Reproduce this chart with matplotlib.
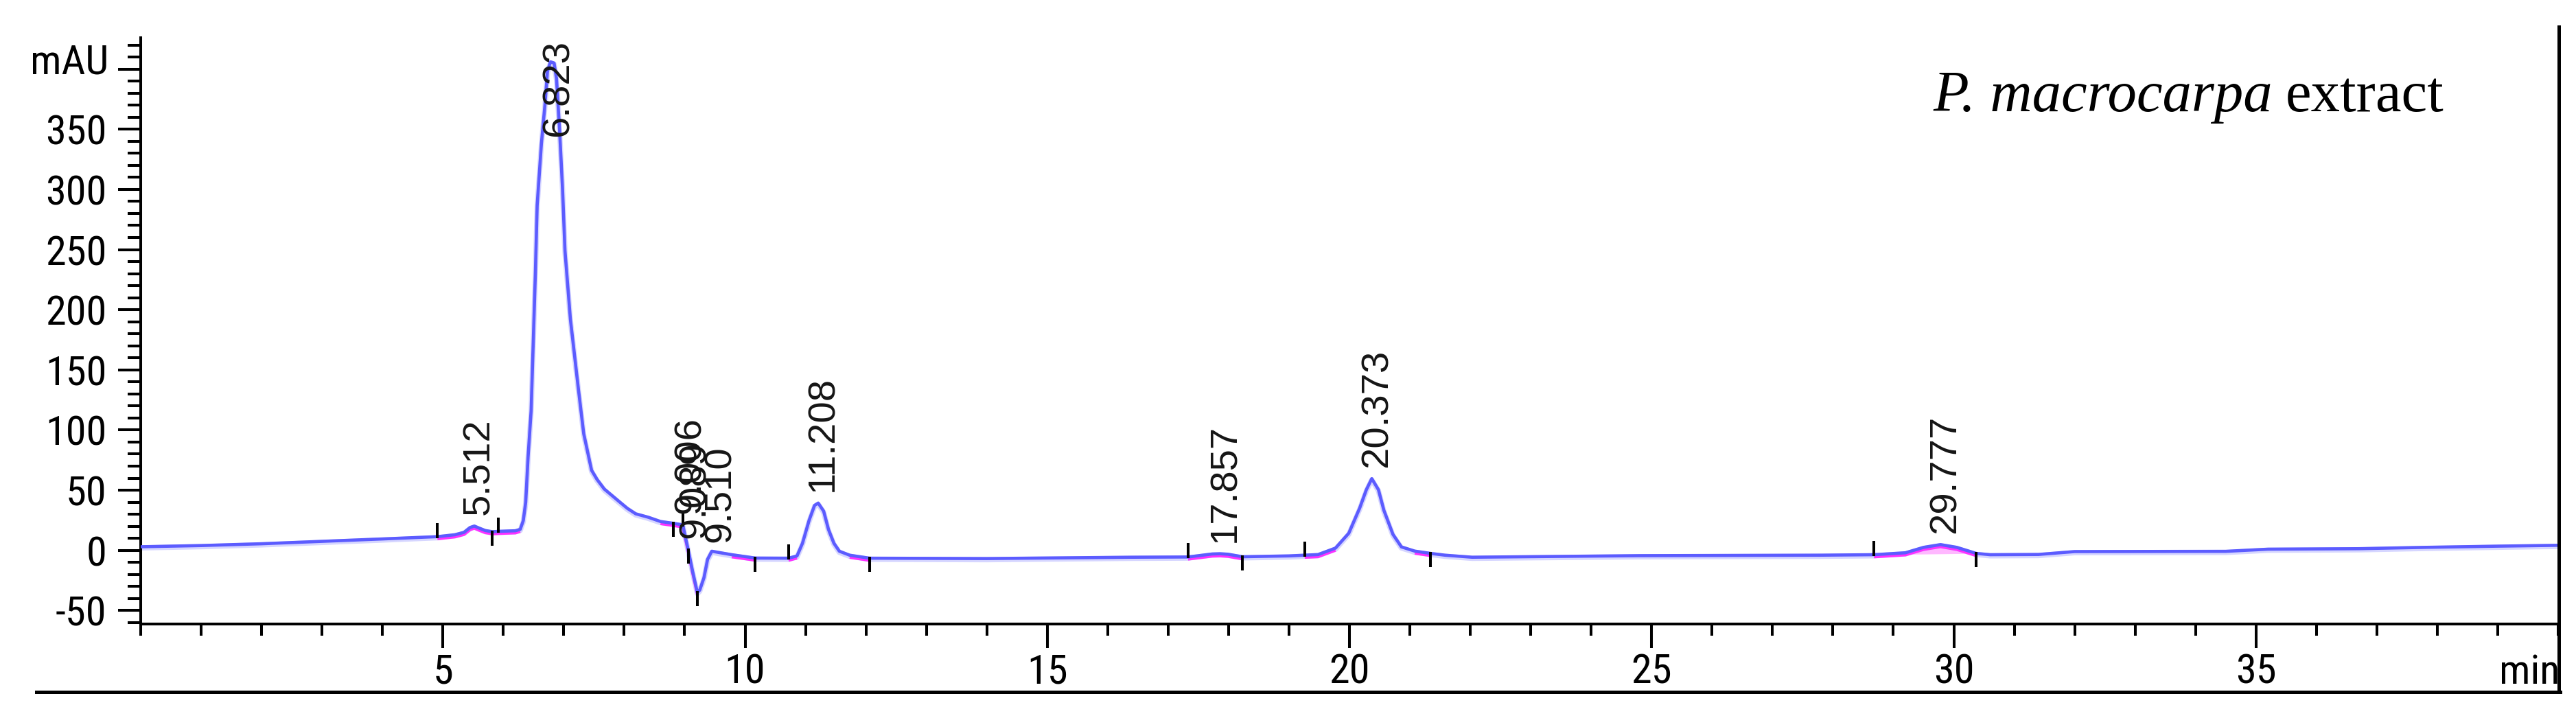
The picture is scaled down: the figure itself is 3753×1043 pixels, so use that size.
import numpy as np
import matplotlib
matplotlib.use("Agg")
import matplotlib.pyplot as plt
from matplotlib.lines import Line2D
from matplotlib.ticker import MultipleLocator, FixedLocator
from matplotlib import font_manager
import matplotlib.transforms as mtransforms

# ---------------- data ----------------
time_min = [0.0, 1.0, 2.0, 3.0, 4.0, 4.91, 5.2, 5.35, 5.45, 5.52, 5.6, 5.7, 5.82, 5.92,
            6.2, 6.28, 6.33, 6.37, 6.41, 6.46, 6.53, 6.56, 6.63, 6.69, 6.73, 6.78, 6.84,
            6.88, 6.93, 6.98, 7.02, 7.11, 7.24, 7.33, 7.46, 7.55, 7.67, 7.80, 7.93, 8.05,
            8.19, 8.40, 8.60,
            8.81, 8.97, 9.01, 9.06, 9.13, 9.21, 9.25, 9.32, 9.38, 9.45, 9.56, 9.78, 10.17,
            10.72, 10.86, 10.95, 11.06, 11.15, 11.21, 11.30, 11.38, 11.47, 11.56, 11.73,
            12.06, 14.0, 16.4, 17.33, 17.73, 17.86, 17.99, 18.23, 19.0, 19.26, 19.48, 19.77,
            19.99, 20.17, 20.28, 20.37, 20.48, 20.57, 20.72, 20.86, 21.08, 21.34, 21.58,
            22.03, 24.8, 27.8, 28.68, 29.2, 29.5, 29.78, 30.05, 30.37, 30.6, 31.4, 32.0,
            34.5, 35.2, 36.7, 37.8, 39.0, 40.0]
signal_mau = [3.0, 4.0, 5.5, 7.5, 9.5, 11.4, 13.0, 15.0, 19.0, 20.2, 18.5, 16.5, 15.5, 15.8,
              16.3, 17.5, 24.7, 40.0, 78.0, 116.0, 230.0, 287.0, 338.0, 371.0, 398.0, 406.0, 405.0,
              392.0, 350.0, 300.0, 249.0, 192.0, 135.0, 97.0, 66.6, 59.0, 51.0, 45.5, 40.0, 35.0,
              30.4, 27.5, 24.0,
              22.5, 21.2, 11.6, 0.2, -17.0, -35.0, -33.0, -22.7, -7.4, -0.7, -1.7, -3.6, -6.4,
              -6.5, -4.6, 5.9, 25.0, 37.4, 39.3, 32.6, 17.4, 5.9, -0.7, -4.0,
              -6.5, -6.8, -5.7, -5.5, -3.0, -2.8, -3.2, -5.3, -4.6, -4.0, -3.5, 1.9,
              14.3, 35.2, 50.4, 59.6, 50.4, 33.3, 13.3, 2.9, -0.6, -2.5, -4.0,
              -5.7, -4.4, -4.0, -3.6, -2.0, 2.5, 4.8, 2.5, -2.5, -3.6, -3.4, -1.0,
              -0.8, 1.0, 1.4, 2.5, 3.5, 4.2]

peak_times = [5.512, 6.823, 9.006, 9.089, 9.510, 11.208, 17.857, 20.373, 29.777]
peak_labels = ["5.512", "6.823", "9.006", "9.089", "9.510", "11.208", "17.857", "20.373", "29.777"]
peak_heights = [20.2, 406.0, 21.0, 0.5, -2.6, 39.3, -2.8, 59.6, 4.8]

# integration events: +1 = peak start (mark above trace), -1 = peak end (mark below)
event_times = [4.91, 5.82, 5.92, 8.81, 8.97, 9.06, 9.21, 10.17, 10.72, 12.06,
               17.33, 18.23, 19.26, 21.34, 28.68, 30.37]
event_kinds = [1, -1, 1, -1, 1, -1, -1, -1, 1, -1, 1, -1, 1, -1, 1, -1]

# visible (magenta) baseline pieces
baseline_starts = [4.91, 8.60, 8.97, 9.78, 10.72, 11.73, 17.33, 19.26, 21.08, 28.68]
baseline_ends = [6.28, 8.97, 9.21, 10.17, 10.86, 12.06, 18.23, 19.77, 21.34, 30.37]
filled_peak = (28.68, 30.37)

x_major = [5, 10, 15, 20, 25, 30, 35]
y_major = [-50, 0, 50, 100, 150, 200, 250, 300, 350, 400]
y_major_labels = ["-50", "0", "50", "100", "150", "200", "250", "300", "350", ""]

title_italic = "P. macrocarpa"
title_plain = "extract"

# ---------------- fonts ----------------
installed = {f.name for f in font_manager.fontManager.ttflist}
if "Liberation Sans Narrow" in installed:
    tick_family, tick_fs = ["Liberation Sans Narrow", "DejaVu Sans"], 43.5
elif "Roboto Condensed" in installed:
    tick_family, tick_fs = ["Roboto Condensed", "DejaVu Sans"], 43.5
else:
    tick_family, tick_fs = ["Liberation Sans", "DejaVu Sans"], 41

# ---------------- figure ----------------
W, H, DPI = 3753, 1043, 100
fig = plt.figure(figsize=(W / DPI, H / DPI), dpi=DPI)
fig.patch.set_facecolor("white")

ax_l, ax_r, ax_t, ax_b = 205, 3727, 55, 909
ax = fig.add_axes([ax_l / W, 1 - ax_b / H, (ax_r - ax_l) / W, (ax_b - ax_t) / H])
ax.set_xlim(0, 40)
ax.set_ylim(-61.2, 426)

for s in ("top", "right"):
    ax.spines[s].set_visible(False)
for s in ("left", "bottom"):
    ax.spines[s].set_linewidth(2.9)
    ax.spines[s].set_color("black")

ax.xaxis.set_major_locator(FixedLocator(x_major))
ax.xaxis.set_minor_locator(MultipleLocator(1))
ax.set_xticklabels([str(x) for x in x_major])
ax.yaxis.set_major_locator(FixedLocator(y_major))
ax.set_yticklabels(y_major_labels)
ax.yaxis.set_minor_locator(MultipleLocator(10))

ax.tick_params(axis="x", which="major", length=25, width=2.9, pad=5.0, direction="out")
ax.tick_params(axis="x", which="minor", length=12.2, width=2.9, direction="out")
ax.tick_params(axis="y", which="major", length=23.8, width=2.9, pad=12, direction="out")
ax.tick_params(axis="y", which="minor", length=13.7, width=2.9, direction="out")
for lab in ax.get_xticklabels() + ax.get_yticklabels():
    lab.set_family(tick_family)
    lab.set_fontsize(tick_fs)
    lab.set_color("black")

ax.annotate("mAU", xy=(0, 400), xycoords=("axes fraction", "data"), xytext=(-33.8, -5.3),
            textcoords="offset points", ha="right", va="baseline",
            fontsize=tick_fs, family=tick_family)
ax.annotate("min", xy=(1, 0), xycoords="axes fraction", xytext=(2, -62.3),
            textcoords="offset points", ha="right", va="baseline",
            fontsize=tick_fs, family=tick_family, annotation_clip=False)

t = np.asarray(time_min)
v = np.asarray(signal_mau)

# pink fill under the small late peak
m = (t >= filled_peak[0]) & (t <= filled_peak[1])
tf = t[m]
base = np.interp(tf, [filled_peak[0], filled_peak[1]],
                 [np.interp(filled_peak[0], t, v), np.interp(filled_peak[1], t, v)])
ax.fill_between(tf, base, v[m], color="#ffb8ff", lw=0, zorder=1)

# the chromatogram trace: soft halo below
halo = mtransforms.offset_copy(ax.transData, fig=fig, x=0, y=-1.2, units="points")
ax.plot(t, v, color="#d6d6ff", lw=5.5, zorder=2, transform=halo, solid_joinstyle="round")

# magenta baseline pieces, slightly below the trace
off = mtransforms.offset_copy(ax.transData, fig=fig, x=0, y=-2.4, units="points")
for a, b in zip(baseline_starts, baseline_ends):
    mm = (t >= a) & (t <= b)
    ax.plot(t[mm], v[mm], color="#ff30ff", lw=2.8, transform=off, zorder=2.6,
            solid_joinstyle="round", solid_capstyle="butt")

# trace core
ax.plot(t, v, color="#5c5cff", lw=3.3, zorder=3, solid_joinstyle="round")

# integration event marks
fig.canvas.draw()
p0 = ax.transData.transform((0, 0))[1]
p1 = ax.transData.transform((0, 1))[1]
px_per_unit = p1 - p0
long_u = 20.0 / px_per_unit
short_u = 2.0 / px_per_unit
for et, ek in zip(event_times, event_kinds):
    yv = np.interp(et, t, v)
    if ek > 0:
        ys = (yv - short_u, yv + long_u)
    else:
        ys = (yv + short_u, yv - long_u)
    ax.plot([et, et], ys, color="black", lw=2.9, zorder=4, solid_capstyle="butt")

# retention-time labels
texts = []
for pt, pl, ph in zip(peak_times, peak_labels, peak_heights):
    tx = ax.annotate(pl, xy=(pt, ph), xytext=(5.5, 12), textcoords="offset points",
                     rotation=90, ha="center", va="bottom", fontsize=40.5,
                     family=["Liberation Sans", "DejaVu Sans"], color="#151515",
                     zorder=5, annotation_clip=False)
    texts.append(tx)

fig.canvas.draw()
renderer = fig.canvas.get_renderer()
axes_top = ax.get_window_extent(renderer).y1
for tx in texts:
    bb = tx.get_window_extent(renderer)
    limit = axes_top - 3
    if bb.y1 > limit:
        dy = (bb.y1 - limit) * 72.0 / DPI
        x0, y0 = tx.xyann
        tx.xyann = (x0, y0 - dy)

# title
t1 = fig.text(2816 / W, 1 - 161.7 / H, title_italic, fontsize=61, fontstyle="italic",
              family=["Liberation Serif", "DejaVu Serif"], ha="left", va="baseline")
ax.annotate(title_plain, xy=(1, 0), xycoords=t1, xytext=(14, 0), textcoords="offset points",
            fontsize=61, family=["Liberation Serif", "DejaVu Serif"], ha="left", va="bottom",
            annotation_clip=False)

# frame lines outside the axes (right border and bottom rule)
fig.add_artist(Line2D([3727.5 / W, 3727.5 / W], [1 - 39 / H, 1 - 1008 / H],
                      transform=fig.transFigure, color="black", lw=3.6))
fig.add_artist(Line2D([53 / W, 3730 / W], [1 - 1007.5 / H, 1 - 1007.5 / H],
                      transform=fig.transFigure, color="black", lw=3.6))

fig.savefig("out.png", dpi=DPI, facecolor="white")
